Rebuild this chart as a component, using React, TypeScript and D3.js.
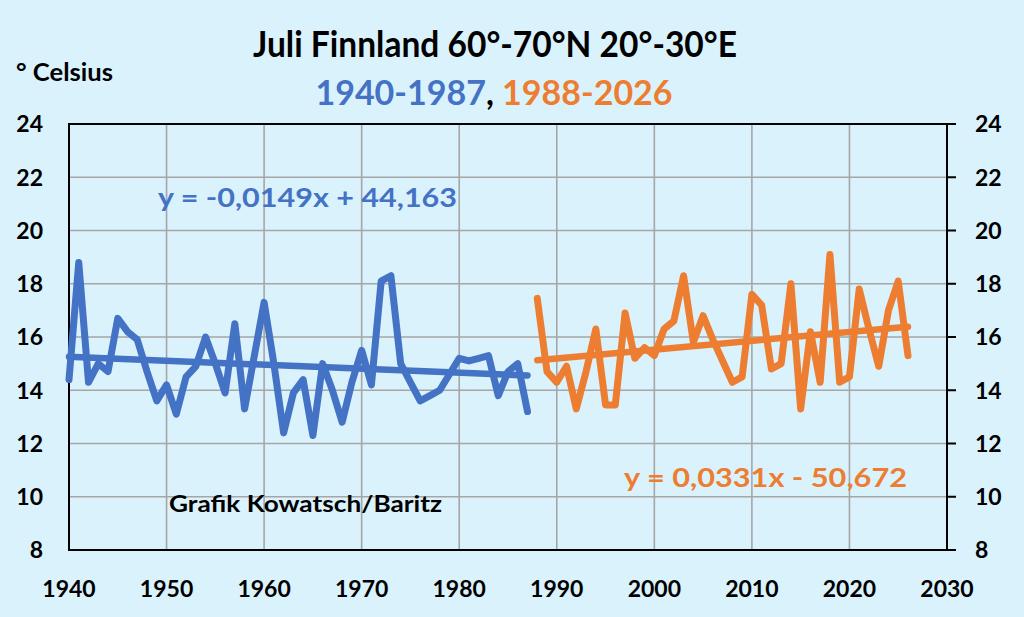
import * as d3 from "d3";

// July mean temperature, Finland 60-70N 20-30E
const firstYearA = 1940;
const tempsA = [
  14.4, 18.8, 14.3, 15.0, 14.7, 16.7, 16.2, 15.9, 14.7, 13.6,
  14.2, 13.1, 14.5, 14.9, 16.0, 15.0, 13.9, 16.5, 13.3, 15.3,
  17.3, 15.0, 12.4, 13.9, 14.4, 12.3, 15.0, 14.0, 12.8, 14.3,
  15.5, 14.2, 18.1, 18.3, 15.0, 14.3, 13.6, 13.8, 14.0, 14.6,
  15.2, 15.1, 15.2, 15.3, 13.8, 14.7, 15.0, 13.2,
];

const firstYearB = 1988;
const tempsB = [
  17.45, 14.7, 14.3, 14.9, 13.3, 14.7, 16.3, 13.45, 13.45, 16.9,
  15.2, 15.6, 15.3, 16.3, 16.6, 18.3, 15.8, 16.8, 15.9, 15.1,
  14.3, 14.5, 17.6, 17.2, 14.8, 15.0, 18.0, 13.3, 16.2, 14.3,
  19.1, 14.3, 14.5, 17.8, 16.3, 14.9, 17.0, 18.1, 15.3,
];

// linear trends as printed on the chart
const trendA = { slope: -0.0149, intercept: 44.163, label: "y = -0,0149x + 44,163" };
const trendB = { slope: 0.0331, intercept: -50.672, label: "y = 0,0331x - 50,672" };

const xTicks = [1940, 1950, 1960, 1970, 1980, 1990, 2000, 2010, 2020, 2030];
const yTicks = [8, 10, 12, 14, 16, 18, 20, 22, 24];

const W = 1024;
const H = 617;
const BG = "#daf2fc";
const BLUE = "#4472c4";
const ORANGE = "#ed7d31";
const FONT = "Lato, 'Open Sans', sans-serif";

export default function App() {
  const x = d3.scaleLinear().domain([1940, 2030]).range([69, 947]);
  const y = d3.scaleLinear().domain([8, 24]).range([550, 124]);

  const ptsA = tempsA.map((v, i) => [firstYearA + i, v] as [number, number]);
  const ptsB = tempsB.map((v, i) => [firstYearB + i, v] as [number, number]);

  const line = d3.line<[number, number]>()
    .x((d) => x(d[0]))
    .y((d) => y(d[1]));

  const trendPts = (t: typeof trendA, a: number, b: number) =>
    [a, b].map((yr) => [yr, t.slope * yr + t.intercept] as [number, number]);

  const lastA = firstYearA + tempsA.length - 1;
  const lastB = firstYearB + tempsB.length - 1;

  return (
    <div style={{ position: "fixed", left: 0, top: 0, width: W, height: H, background: BG }}>
      <svg width={W} height={H} style={{ display: "block" }} fontFamily={FONT}>
        <rect width={W} height={H} fill={BG} />

        {/* grid */}
        {yTicks.map((t) => (
          <line key={"gy" + t} x1={x(1940)} x2={x(2030)} y1={y(t)} y2={y(t)} stroke="#a6a6a6" strokeWidth={1.6} />
        ))}
        {xTicks.map((t) => (
          <line key={"gx" + t} x1={x(t)} x2={x(t)} y1={y(8)} y2={y(24)} stroke="#a6a6a6" strokeWidth={1.6} />
        ))}

        {/* plot border */}
        <rect x={x(1940)} y={y(24)} width={x(2030) - x(1940)} height={y(8) - y(24)} fill="none" stroke="#000" strokeWidth={2} />
        {yTicks.map((t) => (
          <line key={"rt" + t} x1={x(2030)} x2={x(2030) + 9} y1={y(t)} y2={y(t)} stroke="#000" strokeWidth={2} />
        ))}

        {/* trends */}
        <path d={line(trendPts(trendA, firstYearA, lastA)) || ""} fill="none" stroke={BLUE} strokeWidth={6.5} strokeLinecap="round" />
        <path d={line(trendPts(trendB, firstYearB, lastB)) || ""} fill="none" stroke={ORANGE} strokeWidth={6.5} strokeLinecap="round" />

        {/* series */}
        <path d={line(ptsA) || ""} fill="none" stroke={BLUE} strokeWidth={7} strokeLinejoin="round" strokeLinecap="round" />
        <path d={line(ptsB) || ""} fill="none" stroke={ORANGE} strokeWidth={7} strokeLinejoin="round" strokeLinecap="round" />

        {/* axis labels */}
        {yTicks.map((t) => (
          <text key={"yl" + t} x={43} y={y(t)} dy="0.36em" textAnchor="end" fontSize={23} fontWeight={700} fill="#000">
            {t}
          </text>
        ))}
        {yTicks.map((t) => (
          <text key={"yr" + t} x={975} y={y(t)} dy="0.36em" textAnchor="start" fontSize={23} fontWeight={700} fill="#000">
            {t}
          </text>
        ))}
        {xTicks.map((t) => (
          <text key={"xl" + t} x={x(t)} y={597} textAnchor="middle" fontSize={23} fontWeight={700} fill="#000">
            {t}
          </text>
        ))}

        {/* titles */}
        <text x={253} y={56.5} fontSize={36} fontWeight={700} fill="#000" textLength={484} lengthAdjust="spacingAndGlyphs">
          Juli Finnland 60°-70°N 20°-30°E
        </text>
        <text x={494} y={105} textAnchor="middle" fontSize={34} fontWeight={700}>
          <tspan fill={BLUE}>1940-1987</tspan>
          <tspan fill="#000">, </tspan>
          <tspan fill={ORANGE}>1988-2026</tspan>
        </text>
        <text x={16} y={81} fontSize={24} fontWeight={700} fill="#000" textLength={97} lengthAdjust="spacingAndGlyphs">
          ° Celsius
        </text>

        {/* equations & credit */}
        <text x={158} y={207} fontSize={26} fontWeight={700} fill={BLUE} textLength={299} lengthAdjust="spacingAndGlyphs">
          {trendA.label}
        </text>
        <text x={624} y={487} fontSize={26} fontWeight={700} fill={ORANGE} textLength={283} lengthAdjust="spacingAndGlyphs">
          {trendB.label}
        </text>
        <text x={169} y={512} fontSize={23} fontWeight={700} fill="#000" textLength={273} lengthAdjust="spacingAndGlyphs">
          Grafik Kowatsch/Baritz
        </text>
      </svg>
    </div>
  );
}
